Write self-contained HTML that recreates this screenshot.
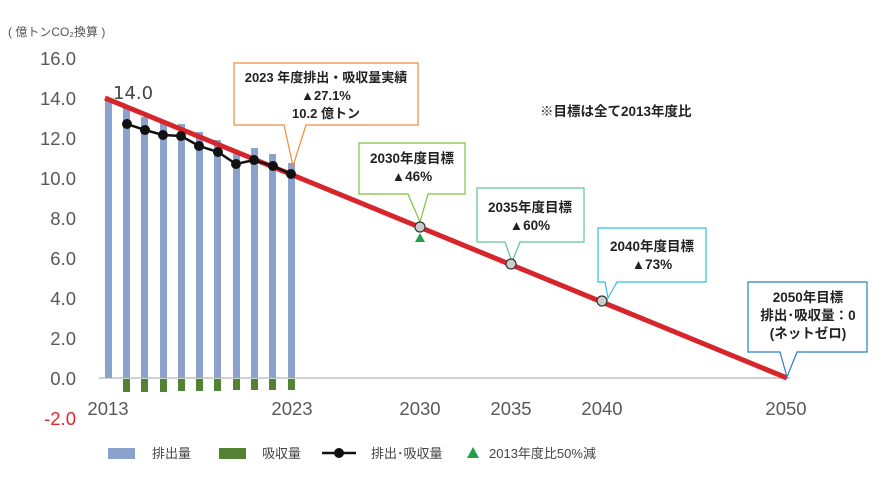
<!DOCTYPE html>
<html><head><meta charset="utf-8"><style>
body{margin:0;background:#fff;width:880px;height:477px;overflow:hidden}
svg text{font-family:"Liberation Sans","Noto Sans CJK JP",sans-serif}
svg .ax{font-family:"DejaVu Sans","Liberation Sans",sans-serif}
</style></head><body>
<svg width="880" height="477" viewBox="0 0 880 477" xmlns="http://www.w3.org/2000/svg">
<text x="8" y="36" font-size="12" fill="#555">( 億トンCO₂換算 )</text>
<g class="ax" font-size="18.5" fill="#595959" text-anchor="end">
<text x="76" y="65">16.0</text><text x="76" y="105">14.0</text><text x="76" y="145">12.0</text>
<text x="76" y="185">10.0</text><text x="76" y="225">8.0</text><text x="76" y="265">6.0</text>
<text x="76" y="305">4.0</text><text x="76" y="345">2.0</text><text x="76" y="385">0.0</text>
<text x="76" y="425" fill="#e0262b">-2.0</text>
</g>
<line x1="99" y1="378" x2="790" y2="378" stroke="#d0d0d0" stroke-width="2"/>
<g fill="#8aa2cc">
<rect x="105" y="98" width="7" height="280"/><rect x="123" y="108" width="7" height="270"/>
<rect x="141" y="117" width="7" height="261"/><rect x="160" y="122" width="7" height="256"/>
<rect x="178" y="124" width="7" height="254"/><rect x="196" y="132" width="7" height="246"/>
<rect x="214" y="140" width="7" height="238"/><rect x="233" y="153" width="7" height="225"/>
<rect x="251" y="148" width="7" height="230"/><rect x="269" y="154" width="7" height="224"/>
<rect x="288" y="163" width="7" height="215"/>
</g>
<g fill="#548235">
<rect x="123" y="379" width="7" height="13"/><rect x="141" y="379" width="7" height="13"/>
<rect x="160" y="379" width="7" height="13"/><rect x="178" y="379" width="7" height="12"/>
<rect x="196" y="379" width="7" height="12"/><rect x="214" y="379" width="7" height="12"/>
<rect x="233" y="379" width="7" height="11"/><rect x="251" y="379" width="7" height="11"/>
<rect x="269" y="379" width="7" height="11"/><rect x="288" y="379" width="7" height="11"/>
</g>
<line x1="105" y1="98" x2="787" y2="378" stroke="#d7262b" stroke-width="5"/>
<polyline points="127,124 145,130 163,135 181,136 199,146 218,152 236,164 254,160 273,166 291,174" fill="none" stroke="#111" stroke-width="2.5"/>
<g fill="#111">
<circle cx="127" cy="124" r="5"/><circle cx="145" cy="130" r="5"/><circle cx="163" cy="135" r="5"/>
<circle cx="181" cy="136" r="5"/><circle cx="199" cy="146" r="5"/><circle cx="218" cy="152" r="5"/>
<circle cx="236" cy="164" r="5"/><circle cx="254" cy="160" r="5"/><circle cx="273" cy="166" r="5"/>
<circle cx="291" cy="174" r="5"/>
</g>
<text class="ax" x="113" y="99" font-size="18" fill="#444">14.0</text>
<path d="M234,63 H418 V125 H306 L293,166 L284,125 H234 Z" fill="#fff" stroke="#f08a3c" stroke-width="1.2"/>
<g font-size="13" font-weight="bold" fill="#222" text-anchor="middle">
<text x="326" y="82">2023 年度排出・吸収量実績</text><text x="326" y="100">▲27.1%</text><text x="326" y="118">10.2 億トン</text>
</g>
<path d="M359,143 H465 V194 H428 L420,222 L408,194 H359 Z" fill="#fff" stroke="#7dc142" stroke-width="1.2"/>
<path d="M477,188 H584 V242 H520 L512,262 L505,242 H477 Z" fill="#fff" stroke="#5cc49c" stroke-width="1.2"/>
<path d="M598,228 H706 V282 H617 L608,298 L605,282 H598 Z" fill="#fff" stroke="#30c0d8" stroke-width="1.2"/>
<path d="M748,282 H867 V352 H797 L787,377 L780,352 H748 Z" fill="#fff" stroke="#2d7cc0" stroke-width="1.2"/>
<g font-size="13.5" font-weight="bold" fill="#222" text-anchor="middle">
<text x="412" y="163">2030年度目標</text><text x="412" y="181">▲46%</text>
<text x="530" y="212">2035年度目標</text><text x="530" y="230">▲60%</text>
<text x="652" y="251">2040年度目標</text><text x="652" y="269">▲73%</text>
<text x="808" y="302">2050年目標</text><text x="808" y="320">排出･吸収量：0</text><text x="808" y="338">(ネットゼロ)</text>
</g>
<g fill="#ccc" stroke="#333" stroke-width="1.2">
<circle cx="420" cy="227" r="5"/><circle cx="511" cy="264" r="5"/><circle cx="602" cy="301" r="5"/>
</g>
<polygon points="420,233 425,242 415,242" fill="#1fa04a"/>
<text x="540" y="116" font-size="13.5" font-weight="bold" fill="#222">※目標は全て2013年度比</text>
<g class="ax" font-size="18.5" fill="#595959" text-anchor="middle">
<text x="108" y="415">2013</text><text x="292" y="415">2023</text><text x="420" y="415">2030</text>
<text x="511" y="415">2035</text><text x="602" y="415">2040</text><text x="786" y="415">2050</text>
</g>
<g font-size="13" fill="#444">
<rect x="108" y="448" width="27" height="11" fill="#8aa2cc"/><text x="152" y="458">排出量</text>
<rect x="219" y="448" width="27" height="11" fill="#548235"/><text x="262" y="458">吸収量</text>
<line x1="322" y1="453" x2="356" y2="453" stroke="#111" stroke-width="2.5"/><circle cx="339" cy="453" r="5" fill="#111"/>
<text x="371" y="458">排出･吸収量</text>
<polygon points="473,447 479,458 467,458" fill="#1fa04a"/><text x="489" y="458">2013年度比50%減</text>
</g>
</svg>
</body></html>
